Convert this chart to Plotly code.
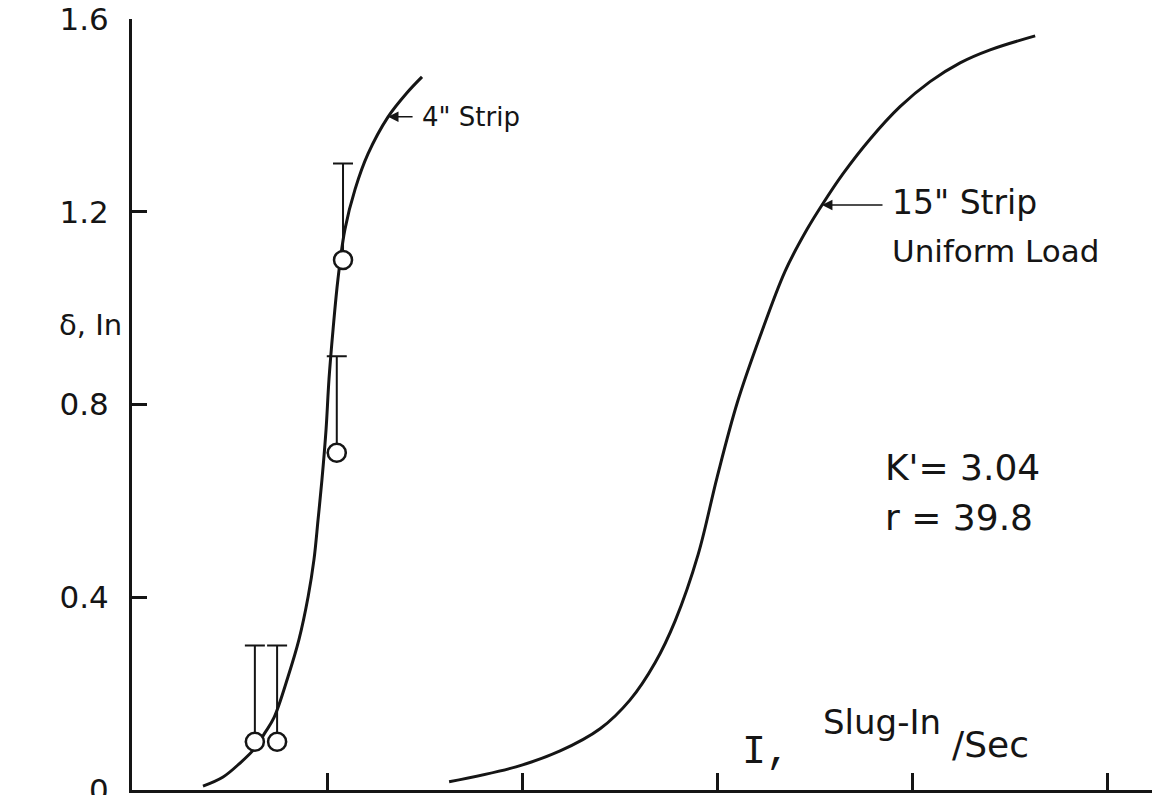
import plotly.graph_objects as go

# Deflection curves (x in axis-tick units, y = deflection in inches)
strip4_x = [0.364, 0.467, 0.554, 0.631, 0.682, 0.728, 0.800, 0.856, 0.903, 0.933,
            0.954, 0.974, 0.995, 1.010, 1.031, 1.056, 1.092, 1.144, 1.210, 1.313,
            1.410, 1.487]
strip4_y = [0.008, 0.027, 0.056, 0.087, 0.119, 0.150, 0.235, 0.312, 0.401, 0.478,
            0.561, 0.644, 0.748, 0.852, 0.956, 1.060, 1.164, 1.247, 1.320, 1.397,
            1.447, 1.480]

strip15_x = [1.626, 1.969, 2.195, 2.400, 2.554, 2.682, 2.785, 2.903, 3.000, 3.103,
             3.221, 3.349, 3.462, 3.538, 3.646, 3.785, 3.938, 4.092, 4.246, 4.400,
             4.631]
strip15_y = [0.017, 0.048, 0.081, 0.127, 0.187, 0.264, 0.351, 0.489, 0.649, 0.803,
             0.942, 1.077, 1.164, 1.214, 1.279, 1.351, 1.418, 1.470, 1.509, 1.536,
             1.565]

# Test points with upper error bars
test_x = [0.630, 0.744, 1.050, 1.082]
test_y = [0.1, 0.1, 0.7, 1.1]
test_err_up = [0.2, 0.2, 0.2, 0.2]

y_ticks = [0, 0.4, 0.8, 1.2, 1.6]
y_tick_text = ["0", "0.4", "0.8", "1.2", "1.6"]
x_ticks = [1, 2, 3, 4, 5]

INK = "#151515"
FONT = "DejaVu Sans"


def txt(size, family=FONT):
    return dict(family=family, size=size, color=INK)


fig = go.Figure()

for cx, cy in ((strip4_x, strip4_y), (strip15_x, strip15_y)):
    fig.add_trace(go.Scatter(
        x=cx, y=cy, mode="lines",
        line=dict(color=INK, width=3, shape="spline", smoothing=1.0),
        showlegend=False, hoverinfo="skip"))

fig.add_trace(go.Scatter(
    x=test_x, y=test_y, mode="markers",
    marker=dict(symbol="circle", size=18, color="white",
                line=dict(color=INK, width=2.5)),
    error_y=dict(type="data", symmetric=False, array=test_err_up,
                 arrayminus=[0] * len(test_err_up),
                 color=INK, thickness=2, width=10),
    showlegend=False, hoverinfo="skip"))

annotations = [
    # curve labels with arrows
    dict(x=1.313, y=1.397, xref="x", yref="y", text="", showarrow=True,
         ax=26, ay=0, arrowhead=2, arrowsize=1.3, arrowwidth=1.6, arrowcolor=INK),
    dict(x=1.477, y=1.397, xref="x", yref="y", text='4" Strip', showarrow=False,
         xanchor="left", yanchor="middle", font=txt(26)),
    dict(x=3.538, y=1.214, xref="x", yref="y", text="", showarrow=True,
         ax=62, ay=0, arrowhead=2, arrowsize=1.3, arrowwidth=1.6, arrowcolor=INK),
    dict(x=3.887, y=1.220, xref="x", yref="y", text='15" Strip', showarrow=False,
         xanchor="left", yanchor="middle", font=txt(33)),
    dict(x=3.887, y=1.118, xref="x", yref="y", text="Uniform Load", showarrow=False,
         xanchor="left", yanchor="middle", font=txt(31)),
    # parameters
    dict(x=3.851, y=0.669, xref="x", yref="y", text="K'= 3.04", showarrow=False,
         xanchor="left", yanchor="middle", font=txt(36)),
    dict(x=3.851, y=0.565, xref="x", yref="y", text="r = 39.8", showarrow=False,
         xanchor="left", yanchor="middle", font=txt(36)),
    # axis titles
    dict(x=-0.041, y=0.603, xref="paper", yref="paper", text="δ, In", showarrow=False,
         xanchor="center", yanchor="middle", font=txt(29)),
    dict(x=3.12, y=0.077, xref="x", yref="y", text="I,", showarrow=False,
         xanchor="left", yanchor="middle", font=txt(40, "Liberation Mono")),
    dict(x=3.533, y=0.141, xref="x", yref="y", text="Slug-In", showarrow=False,
         xanchor="left", yanchor="middle", font=txt(34)),
    dict(x=4.195, y=0.094, xref="x", yref="y", text="/Sec", showarrow=False,
         xanchor="left", yanchor="middle", font=txt(36)),
]

fig.update_layout(
    width=1158, height=795,
    margin=dict(l=132, r=6, t=19, b=5, autoexpand=False),
    paper_bgcolor="white", plot_bgcolor="white",
    annotations=annotations,
    xaxis=dict(range=[0, 5.23], tickvals=x_ticks, showticklabels=False,
               ticks="inside", ticklen=17, tickwidth=3, tickcolor=INK,
               showline=True, linecolor=INK, linewidth=3,
               showgrid=False, zeroline=False, automargin=False),
    yaxis=dict(range=[0, 1.6], tickvals=y_ticks, ticktext=y_tick_text,
               ticks="inside", ticklen=15, tickwidth=2.5, tickcolor=INK,
               showline=True, linecolor=INK, linewidth=3,
               showgrid=False, zeroline=False, ticklabelstandoff=14,
               ticklabeloverflow="allow", automargin=False,
               tickfont=txt(31)),
)

fig.write_html("out.html")
